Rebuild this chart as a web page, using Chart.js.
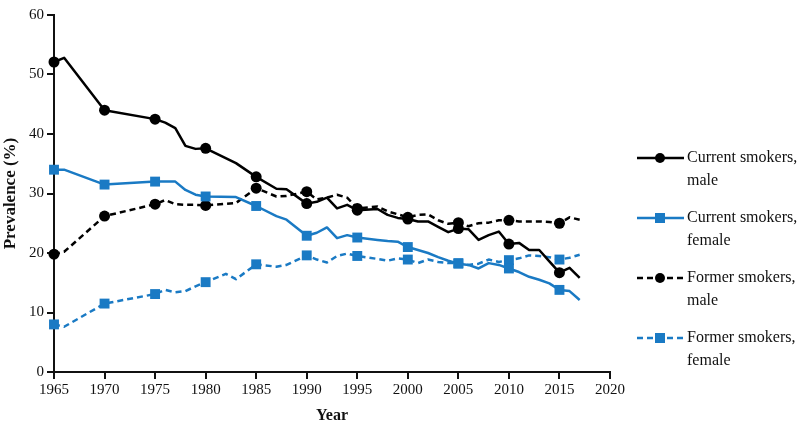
<!DOCTYPE html>
<html>
<head>
<meta charset="utf-8">
<script src="https://cdn.jsdelivr.net/npm/chart.js@4"></script>
<style>
  html, body { margin: 0; padding: 0; background: #fff; }
  #wrap { width: 800px; height: 425px; }
</style>
</head>
<body>
<div id="wrap"><canvas id="myChart" width="800" height="425"></canvas></div>
<script>
var years = [1965, 1966, 1970, 1975, 1976, 1977, 1978, 1979, 1980, 1982, 1983, 1985, 1987, 1988,
  1990, 1991, 1992, 1993, 1994, 1995, 1997, 1998, 1999, 2000, 2001, 2002, 2003, 2004, 2005,
  2006, 2007, 2008, 2009, 2010, 2011, 2012, 2013, 2014, 2015, 2016, 2017];

var currentMale = [52.1, 52.8, 44.0, 42.5, 41.9, 41.0, 38.0, 37.5, 37.6, null, 35.1, 32.8, 30.8, 30.7,
  28.3, 28.6, 29.3, 27.5, 28.1, 27.2, 27.4, 26.4, 25.9, 25.7, 25.3, 25.3, 24.4, 23.5, 24.1,
  24.0, 22.2, 23.0, 23.6, 21.5, 21.7, 20.5, 20.5, 18.6, 16.7, 17.5, 15.8];

var currentFemale = [34.0, 34.0, 31.5, 32.0, 32.0, 32.0, 30.6, 29.8, 29.5, null, 29.4, 27.9, 26.2, 25.6,
  22.9, 23.4, 24.3, 22.5, 23.0, 22.6, 22.2, 22.0, 21.9, 21.0, 20.5, 20.0, 19.3, 18.7, 18.2,
  18.0, 17.4, 18.3, 18.0, 17.4, 16.8, 16.0, 15.5, 14.9, 13.8, 13.6, 12.1];

var formerMale = [19.8, 20.2, 26.2, 28.2, 28.9, 28.2, 28.1, 28.1, 28.0, null, 28.4, 30.9, 29.5, 29.6,
  30.3, 29.0, 29.3, 29.8, 29.3, 27.5, 27.8, 27.0, 26.5, 26.0, 26.4, 26.5, 25.5, 24.9, 25.1,
  24.5, 25.0, 25.1, 25.5, 25.5, 25.3, 25.3, 25.3, 25.2, 25.0, 26.0, 25.6];

var formerFemale = [8.0, 7.6, 11.5, 13.1, 13.8, 13.4, 13.6, 14.4, 15.1, 16.5, 15.6, 18.1, 17.7, 18.0,
  19.6, 18.9, 18.4, 19.5, 19.9, 19.5, 19.0, 18.7, 19.1, 18.9, 18.3, 18.9, 18.5, 18.3, 18.3,
  18.0, 18.2, 18.9, 18.5, 18.8, 19.1, 19.6, 19.5, 19.3, 18.9, 19.2, 19.7];

var legendLabels = [['Current smokers,', 'male'], ['Current smokers,', 'female'],
  ['Former smokers,', 'male'], ['Former smokers,', 'female']];

var BLUE = '#1a7ac4';
var FONT = '"Liberation Serif", "DejaVu Serif", serif';

function pts(vals) {
  return years.map(function (y, i) { return { x: y, y: vals[i] }; });
}
// markers only every 5 years
function markerRadius(r) {
  return function (ctx) {
    var y = years[ctx.dataIndex];
    return (y % 5 === 0 && ctx.raw && ctx.raw.y !== null) ? r : 0;
  };
}

function makeSet(label, vals, color, dashed, style) {
  return {
    label: label,
    data: pts(vals),
    borderColor: color,
    backgroundColor: color,
    borderWidth: 2.5,
    borderDash: dashed ? [6, 4] : [],
    borderJoinStyle: 'round',
    pointStyle: style,
    pointRadius: markerRadius(style === 'rect' ? 7 : 5.5),
    pointBorderWidth: 0,
    pointHoverRadius: 0,
    tension: 0,
    spanGaps: true,
    clip: false
  };
}

var legendPlugin = {
  id: 'sideLegend',
  afterDraw: function (chart) {
    var ctx = chart.ctx;
    ctx.save();
    chart.data.datasets.forEach(function (ds, i) {
      var y = 158 + i * 60;
      ctx.strokeStyle = ds.borderColor;
      ctx.lineWidth = 2.5;
      ctx.setLineDash(ds.borderDash);
      ctx.beginPath();
      ctx.moveTo(637, y);
      ctx.lineTo(684, y);
      ctx.stroke();
      ctx.setLineDash([]);
      ctx.fillStyle = ds.backgroundColor;
      if (ds.pointStyle === 'rect') {
        ctx.fillRect(655, y - 5, 10, 10);
      } else {
        ctx.beginPath();
        ctx.arc(660, y, 5, 0, Math.PI * 2);
        ctx.fill();
      }
      ctx.fillStyle = '#111';
      ctx.font = '16px ' + FONT;
      ctx.textBaseline = 'middle';
      ctx.textAlign = 'left';
      ctx.fillText(legendLabels[i][0], 687, y);
      ctx.fillText(legendLabels[i][1], 687, y + 23);
    });
    ctx.restore();
  }
};

var chart = new Chart(document.getElementById('myChart').getContext('2d'), {
  type: 'line',
  data: {
    datasets: [
      makeSet('Current smokers, male', currentMale, '#000', false, 'circle'),
      makeSet('Current smokers, female', currentFemale, BLUE, false, 'rect'),
      makeSet('Former smokers, male', formerMale, '#000', true, 'circle'),
      makeSet('Former smokers, female', formerFemale, BLUE, true, 'rect')
    ]
  },
  options: {
    responsive: false,
    animation: false,
    layout: { padding: { top: 15, right: 190, left: 0, bottom: 0 } },
    plugins: {
      legend: { display: false },
      tooltip: { enabled: false }
    },
    scales: {
      x: {
        type: 'linear',
        min: 1965,
        max: 2020,
        afterFit: function (s) { s.height = 53; },
        ticks: { stepSize: 5, color: '#111', font: { family: FONT, size: 15 }, padding: 2,
          callback: function (v) { return String(v); } },
        grid: { drawOnChartArea: false, color: '#111', tickLength: 7, lineWidth: 2 },
        border: { color: '#111', width: 2 },
        title: { display: true, text: 'Year', color: '#111', padding: 0,
          font: { family: FONT, size: 16, weight: 'bold' } }
      },
      y: {
        min: 0,
        max: 60,
        afterFit: function (s) { s.width = 54; },
        ticks: { stepSize: 10, color: '#111', font: { family: FONT, size: 15 }, padding: 3 },
        grid: { drawOnChartArea: false, color: '#111', tickLength: 7, lineWidth: 2 },
        border: { color: '#111', width: 2 },
        title: { display: true, text: 'Prevalence (%)', color: '#111', padding: 0,
          font: { family: FONT, size: 17, weight: 'bold' } }
      }
    }
  },
  plugins: [legendPlugin]
});
</script>
</body>
</html>
